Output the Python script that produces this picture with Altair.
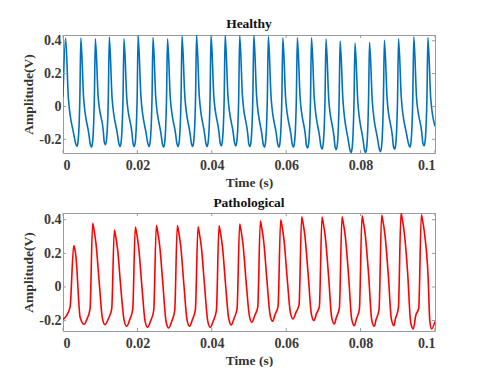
import altair as alt
import pandas as pd

# ---- Healthy signal (time s, amplitude V) ----
healthy_t = [
    0.0,
    0.0007, 0.00145, 0.00285, 0.00345, 0.00378, 0.0041, 0.00453,
    0.0048, 0.00555, 0.00695, 0.00735, 0.00768, 0.0080, 0.00843,
    0.0087, 0.00945, 0.01085, 0.0111, 0.01143, 0.01175, 0.01218,
    0.01245, 0.0132, 0.0146, 0.01505, 0.01538, 0.0157, 0.01613,
    0.0164, 0.01715, 0.01855, 0.01885, 0.01918, 0.0195, 0.01993,
    0.0202, 0.02095, 0.02235, 0.02285, 0.02318, 0.0235, 0.02393,
    0.0242, 0.02495, 0.02635, 0.02675, 0.02708, 0.0274, 0.02783,
    0.0281, 0.02885, 0.03025, 0.03065, 0.03098, 0.0313, 0.03173,
    0.0320, 0.03275, 0.03415, 0.03455, 0.03488, 0.0352, 0.03563,
    0.0359, 0.03665, 0.03805, 0.03845, 0.03878, 0.0391, 0.03953,
    0.0398, 0.04055, 0.04195, 0.04225, 0.04258, 0.0429, 0.04333,
    0.0436, 0.04435, 0.04575, 0.04615, 0.04648, 0.0468, 0.04723,
    0.0475, 0.04825, 0.04965, 0.04995, 0.05028, 0.0506, 0.05103,
    0.0513, 0.05205, 0.05345, 0.05385, 0.05418, 0.0545, 0.05493,
    0.0552, 0.05595, 0.05735, 0.05775, 0.05808, 0.0584, 0.05883,
    0.0591, 0.05985, 0.06125, 0.06165, 0.06198, 0.0623, 0.06273,
    0.0630, 0.06375, 0.06515, 0.06545, 0.06578, 0.0661, 0.06653,
    0.0668, 0.06755, 0.06895, 0.06935, 0.06968, 0.0700, 0.07043,
    0.0707, 0.07145, 0.07285, 0.07315, 0.07348, 0.0738, 0.07423,
    0.0745, 0.07525, 0.07665, 0.07715, 0.07748, 0.0778, 0.07823,
    0.0785, 0.07925, 0.08065, 0.08105, 0.08138, 0.0817, 0.08213,
    0.0824, 0.08315, 0.08455, 0.08505, 0.08538, 0.0857, 0.08613,
    0.0864, 0.08715, 0.08855, 0.08885, 0.08918, 0.0895, 0.08993,
    0.0902, 0.09095, 0.09235, 0.09295, 0.09328, 0.0936, 0.09403,
    0.0943, 0.09505, 0.09645, 0.09675, 0.09708, 0.0974, 0.09783,
    0.0981, 0.09885, 0.1,
]
healthy_v = [
    0.06,
    0.416, 0.05, -0.163, -0.228, -0.243, -0.20, 0.05,
    0.416, 0.05, -0.167, -0.232, -0.247, -0.205, 0.05,
    0.412, 0.06, -0.152, -0.217, -0.232, -0.19, 0.05,
    0.422, 0.05, -0.163, -0.228, -0.243, -0.20, 0.05,
    0.412, 0.05, -0.163, -0.228, -0.243, -0.20, 0.05,
    0.430, 0.06, -0.163, -0.228, -0.243, -0.20, 0.05,
    0.420, 0.05, -0.167, -0.232, -0.247, -0.205, 0.05,
    0.412, 0.05, -0.163, -0.228, -0.243, -0.20, 0.05,
    0.428, 0.06, -0.163, -0.228, -0.243, -0.20, 0.05,
    0.434, 0.06, -0.163, -0.228, -0.243, -0.20, 0.05,
    0.434, 0.06, -0.159, -0.224, -0.239, -0.197, 0.05,
    0.434, 0.06, -0.159, -0.224, -0.239, -0.197, 0.05,
    0.432, 0.06, -0.163, -0.228, -0.243, -0.20, 0.05,
    0.435, 0.06, -0.167, -0.232, -0.247, -0.205, 0.05,
    0.426, 0.05, -0.167, -0.232, -0.247, -0.205, 0.05,
    0.418, 0.05, -0.167, -0.232, -0.247, -0.205, 0.05,
    0.418, 0.05, -0.173, -0.238, -0.253, -0.21, 0.04,
    0.418, 0.05, -0.179, -0.244, -0.259, -0.215, 0.04,
    0.410, 0.04, -0.182, -0.247, -0.262, -0.22, 0.04,
    0.398, 0.04, -0.20, -0.265, -0.28, -0.235, 0.03,
    0.386, 0.03, -0.20, -0.265, -0.28, -0.235, 0.03,
    0.390, 0.03, -0.195, -0.26, -0.275, -0.23, 0.04,
    0.402, 0.04, -0.18, -0.245, -0.26, -0.217, 0.04,
    0.412, 0.05, -0.167, -0.232, -0.247, -0.205, 0.05,
    0.424, 0.05, -0.159, -0.224, -0.239, -0.197, 0.05,
    0.420, 0.05, -0.12,
]

# ---- Pathological signal ----
patho_t = [
    0.0, 0.0008, 0.0019,
    0.00288, 0.00318, 0.0035, 0.0046, 0.0057, 0.00647, 0.00727,
    0.00797, 0.00827, 0.00887, 0.00977, 0.01057, 0.01127, 0.0123, 0.0131,
    0.0138, 0.0141, 0.0147, 0.0156, 0.0164, 0.0171, 0.01794, 0.01874,
    0.01944, 0.01974, 0.02034, 0.02124, 0.02204, 0.02274, 0.02359, 0.02439,
    0.02509, 0.02539, 0.02599, 0.02689, 0.02769, 0.02839, 0.02923, 0.03003,
    0.03073, 0.03103, 0.03163, 0.03253, 0.03333, 0.03403, 0.03479, 0.03559,
    0.03629, 0.03659, 0.03719, 0.03809, 0.03889, 0.03959, 0.04044, 0.04124,
    0.04194, 0.04224, 0.04284, 0.04374, 0.04454, 0.04524, 0.04599, 0.04679,
    0.04749, 0.04779, 0.04839, 0.04929, 0.05009, 0.05079, 0.05155, 0.05235,
    0.05305, 0.05335, 0.05395, 0.05485, 0.05565, 0.05635, 0.05701, 0.05781,
    0.05851, 0.05881, 0.05941, 0.06031, 0.06111, 0.06181, 0.06266, 0.06346,
    0.06416, 0.06446, 0.06506, 0.06596, 0.06676, 0.06746, 0.06812, 0.06892,
    0.06962, 0.06992, 0.07052, 0.07142, 0.07222, 0.07292, 0.0735, 0.0743,
    0.075, 0.0753, 0.0759, 0.0768, 0.0776, 0.0783, 0.07888, 0.07968,
    0.08038, 0.08068, 0.08128, 0.08218, 0.08298, 0.08368, 0.08416, 0.08496,
    0.08566, 0.08596, 0.08656, 0.08746, 0.08826, 0.08896, 0.08936, 0.09016,
    0.09086, 0.09116, 0.09176, 0.09266, 0.09346, 0.09416, 0.09483, 0.09563,
    0.09633, 0.09663, 0.09723, 0.09813, 0.0986, 0.0991, 0.1,
]
patho_v = [
    -0.195, -0.175, -0.12,
    0.246, 0.225, 0.175, -0.18, -0.222, -0.19, -0.13,
    0.378, 0.348, 0.258, 0.018, -0.184, -0.224, -0.184, -0.13,
    0.339, 0.309, 0.219, -0.021, -0.194, -0.234, -0.194, -0.135,
    0.356, 0.326, 0.236, -0.004, -0.20, -0.24, -0.20, -0.14,
    0.366, 0.336, 0.246, 0.006, -0.204, -0.244, -0.204, -0.14,
    0.366, 0.336, 0.246, 0.006, -0.194, -0.234, -0.194, -0.135,
    0.358, 0.328, 0.238, -0.002, -0.20, -0.24, -0.20, -0.14,
    0.364, 0.334, 0.244, 0.004, -0.186, -0.226, -0.186, -0.13,
    0.374, 0.344, 0.254, 0.014, -0.17, -0.21, -0.17, -0.12,
    0.392, 0.362, 0.272, 0.032, -0.164, -0.204, -0.164, -0.115,
    0.400, 0.37, 0.28, 0.04, -0.15, -0.19, -0.15, -0.105,
    0.418, 0.388, 0.298, 0.058, -0.16, -0.20, -0.16, -0.115,
    0.416, 0.386, 0.296, 0.056, -0.18, -0.22, -0.18, -0.125,
    0.418, 0.388, 0.298, 0.058, -0.19, -0.23, -0.19, -0.13,
    0.424, 0.394, 0.304, 0.064, -0.194, -0.234, -0.194, -0.135,
    0.428, 0.398, 0.308, 0.068, -0.19, -0.23, -0.19, -0.125,
    0.440, 0.41, 0.32, 0.08, -0.21, -0.25, -0.17, -0.125,
    0.430, 0.40, 0.31, 0.07, -0.20, -0.25, -0.205,
]

x_ticks = [0, 0.02, 0.04, 0.06, 0.08, 0.1]
y_ticks = [-0.2, 0, 0.2, 0.4]
healthy_domain = [-0.283, 0.435]
patho_domain = [-0.262, 0.44]

W, H = 372, 118
FONT = "Liberation Serif"
FRAME = "#9a9a9a"

y_label_expr = "datum.value < 0 ? '-' + format(-datum.value, '~g') : format(datum.value, '~g')"


def panel(t, v, color, title, ydom):
    df = pd.DataFrame({"t": t, "v": v})
    xt = pd.DataFrame({"t": x_ticks})
    yt = pd.DataFrame({"v": y_ticks})
    xs = alt.Scale(domain=[0, 0.1], nice=False, zero=False)
    ys = alt.Scale(domain=ydom, nice=False, zero=False)
    xax = alt.Axis(values=x_ticks, format="~g", title="Time (s)")
    yax = alt.Axis(values=y_ticks, labelExpr=y_label_expr, title="Amplitude(V)",
                   titleX=-35, titleBaseline="middle")

    line = alt.Chart(df).mark_line(
        color=color, strokeWidth=1.6, clip=True, interpolate="monotone"
    ).encode(
        x=alt.X("t:Q", scale=xs, axis=xax),
        y=alt.Y("v:Q", scale=ys, axis=yax),
        order="t:Q",
    )
    tick_bottom = alt.Chart(xt).mark_rule(color=FRAME, strokeWidth=1).encode(
        x=alt.X("t:Q", scale=xs, axis=xax), y=alt.value(H), y2=alt.value(H - 3))
    tick_top = alt.Chart(xt).mark_rule(color=FRAME, strokeWidth=1).encode(
        x=alt.X("t:Q", scale=xs, axis=xax), y=alt.value(0), y2=alt.value(3))
    tick_left = alt.Chart(yt).mark_rule(color=FRAME, strokeWidth=1).encode(
        y=alt.Y("v:Q", scale=ys, axis=yax), x=alt.value(0), x2=alt.value(3))
    tick_right = alt.Chart(yt).mark_rule(color=FRAME, strokeWidth=1).encode(
        y=alt.Y("v:Q", scale=ys, axis=yax), x=alt.value(W), x2=alt.value(W - 3))

    return alt.layer(line, tick_bottom, tick_top, tick_left, tick_right).properties(
        width=W, height=H, title=alt.TitleParams(title))


top = panel(healthy_t, healthy_v, "#0072BD", "Healthy", healthy_domain)
bottom = panel(patho_t, patho_v, "#FF0000", "Pathological", patho_domain)

chart = alt.vconcat(top, bottom, spacing=6).properties(
    padding={"left": 12, "top": 8, "right": 6, "bottom": 0},
    background="white",
).configure_view(
    stroke=FRAME, strokeWidth=1,
).configure_axis(
    domain=False, ticks=False, grid=False,
    labelFont=FONT, labelFontWeight="bold", labelFontSize=14, labelColor="#3a3a3a",
    titleFont=FONT, titleFontWeight="bold", titleFontSize=13.5, titleColor="#333333",
).configure_axisX(
    labelPadding=5, titlePadding=3,
).configure_axisY(
    labelPadding=2,
).configure_title(
    font=FONT, fontWeight="bold", fontSize=13.5, color="#111111", offset=3,
)

chart.save("out.html", embed_options={"renderer": "svg", "actions": False})
